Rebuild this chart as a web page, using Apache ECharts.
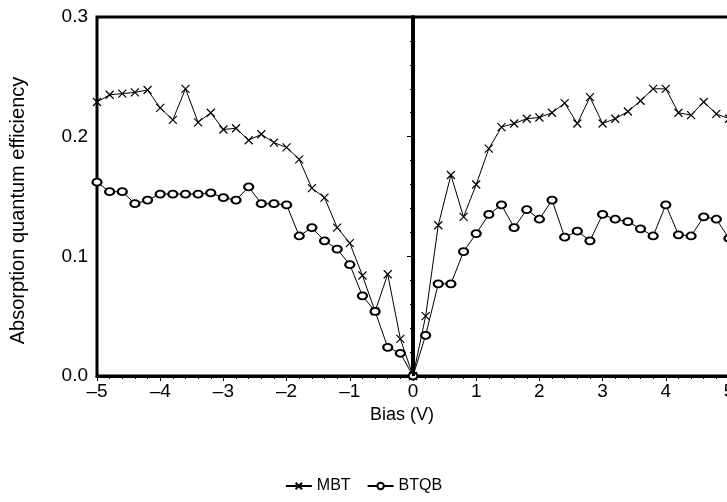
<!DOCTYPE html>
<html>
<head>
    <meta charset="UTF-8">
    <title>Absorption quantum efficiency</title>
    <script src="https://cdn.jsdelivr.net/npm/echarts@6/dist/echarts.min.js"></script>
</head>
<body style="margin:0;background:#fff;">
<div id="main" style="width: 727px;height:502px;"></div>
<script type="text/javascript">
    // bias values (V)
    var biasList = [-5.0, -4.8, -4.6, -4.4, -4.2, -4.0, -3.8, -3.6, -3.4, -3.2,
        -3.0, -2.8, -2.6, -2.4, -2.2, -2.0, -1.8, -1.6, -1.4, -1.2,
        -1.0, -0.8, -0.6, -0.4, -0.2, 0.0, 0.2, 0.4, 0.6, 0.8,
        1.0, 1.2, 1.4, 1.6, 1.8, 2.0, 2.2, 2.4, 2.6, 2.8,
        3.0, 3.2, 3.4, 3.6, 3.8, 4.0, 4.2, 4.4, 4.6, 4.8, 5.0];

    var mbtData = [0.229, 0.235, 0.236, 0.237, 0.239, 0.224, 0.214, 0.240, 0.212, 0.220,
        0.206, 0.207, 0.197, 0.202, 0.195, 0.191, 0.181, 0.157, 0.149, 0.124,
        0.111, 0.084, 0.054, 0.085, 0.031, 0.000, 0.050, 0.126, 0.168, 0.133,
        0.160, 0.190, 0.208, 0.211, 0.215, 0.216, 0.220, 0.228, 0.211, 0.233,
        0.211, 0.215, 0.221, 0.230, 0.240, 0.240, 0.220, 0.218, 0.229, 0.219, 0.215];

    var btqbData = [0.162, 0.154, 0.154, 0.144, 0.147, 0.152, 0.152, 0.152, 0.152, 0.153,
        0.149, 0.147, 0.158, 0.144, 0.144, 0.143, 0.117, 0.124, 0.113, 0.106,
        0.093, 0.067, 0.054, 0.024, 0.019, 0.000, 0.034, 0.077, 0.077, 0.104,
        0.119, 0.135, 0.143, 0.124, 0.139, 0.131, 0.147, 0.116, 0.121, 0.113,
        0.135, 0.131, 0.129, 0.123, 0.117, 0.143, 0.118, 0.117, 0.133, 0.131, 0.115];

    var seriesNames = ['MBT', 'BTQB'];

    function pairs(ys) {
        return ys.map(function (v, i) { return [biasList[i], v]; });
    }

    var font = 'Liberation Sans, Arial, sans-serif';
    var myChart = echarts.init(document.getElementById('main'));

    var option = {
        backgroundColor: '#fff',
        animation: false,
        textStyle: {fontFamily: font, color: '#000'},
        grid: {
            left: 97, top: 17, right: -2, bottom: 126,
            outerBoundsMode: 'none',
            show: true, borderColor: '#000', borderWidth: 3
        },
        legend: {
            data: seriesNames,
            bottom: 3,
            left: 'center',
            itemWidth: 26,
            itemHeight: 8,
            itemGap: 16,
            textStyle: {fontFamily: font, fontSize: 16, color: '#000'}
        },
        xAxis: {
            type: 'value',
            min: -5, max: 5, interval: 1,
            name: 'Bias (V)',
            nameLocation: 'middle',
            nameGap: 28,
            nameTextStyle: {fontFamily: font, fontSize: 18, color: '#000', padding: [0, 22, 0, 0]},
            splitLine: {show: false},
            axisLine: {lineStyle: {color: '#000', width: 3}},
            axisTick: {length: 5, lineStyle: {color: '#000', width: 1}},
            minorTick: {show: true, splitNumber: 5, length: 3, lineStyle: {color: '#000'}},
            axisLabel: {
                fontFamily: font, fontSize: 19, color: '#000', margin: 6,
                formatter: function (v) { return v < 0 ? '\u2013' + Math.abs(v) : String(v); }
            }
        },
        yAxis: {
            type: 'value',
            min: 0, max: 0.3, interval: 0.1,
            name: 'Absorption quantum efficiency',
            nameLocation: 'middle',
            nameGap: 69,
            nameTextStyle: {fontFamily: font, fontSize: 20, color: '#000', padding: [0, 28, 0, 0]},
            splitLine: {show: false},
            axisLine: {lineStyle: {color: '#000', width: 4}},
            axisTick: {length: 6, lineStyle: {color: '#000', width: 1}},
            minorTick: {show: true, splitNumber: 5, length: 3, lineStyle: {color: '#000'}},
            axisLabel: {
                fontFamily: font, fontSize: 19, color: '#000', margin: 9,
                formatter: function (v) { return v.toFixed(1); }
            }
        },
        series: [
            {
                name: 'MBT',
                type: 'line',
                data: pairs(mbtData),
                symbol: 'path://M0,0L10,10M10,0L0,10',
                symbolSize: 8,
                lineStyle: {color: '#000', width: 1},
                itemStyle: {color: '#000', borderColor: '#000', borderWidth: 1.2},
                markLine: {
                    silent: true,
                    symbol: 'none',
                    label: {show: false},
                    lineStyle: {color: '#000', width: 3, type: 'solid'},
                    data: [{xAxis: 0}]
                }
            },
            {
                name: 'BTQB',
                type: 'line',
                data: pairs(btqbData),
                symbol: 'emptyCircle',
                symbolSize: [9, 7],
                lineStyle: {color: '#000', width: 1},
                itemStyle: {color: '#000', borderColor: '#000', borderWidth: 1}
            }
        ]
    };

    myChart.setOption(option);
</script>
</body>
</html>
